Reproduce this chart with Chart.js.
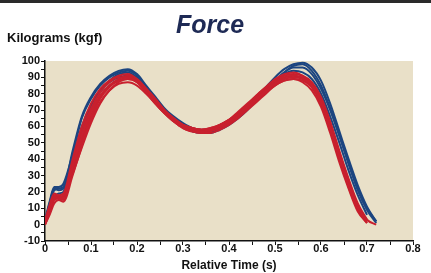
<!DOCTYPE html>
<html lang="en">
<head>
    <meta charset="UTF-8">
    <title>Force</title>
    <style>
        body {
            margin: 0;
            background: #ffffff;
            font-family: "Liberation Sans", Arial, sans-serif;
        }

        .frame {
            position: relative;
            width: 431px;
            height: 273px;
            overflow: hidden;
        }

        .top-bar {
            position: absolute;
            left: 0;
            top: 0;
            width: 431px;
            height: 3px;
            background: #2a2a2a;
        }

        .chart-title {
            position: absolute;
            left: 0;
            top: 12px;
            width: 420px;
            text-align: center;
            font: italic bold 25px/25px "Liberation Sans", Arial, sans-serif;
            color: #1e2a55;
        }

        .y-title {
            position: absolute;
            left: 7px;
            top: 31px;
            font: bold 13px/13px "Liberation Sans", Arial, sans-serif;
            color: #111;
        }

        .chart-box {
            position: absolute;
            left: 0;
            top: 0;
            width: 431px;
            height: 273px;
        }
    </style>
    <script src="https://cdn.jsdelivr.net/npm/chart.js"></script>
</head>
<body>
    <div class="frame">
        <div class="chart-box"><canvas id="forceChart"></canvas></div>
        <div class="top-bar"></div>
        <div class="chart-title">Force</div>
        <div class="y-title">Kilograms (kgf)</div>
    </div>

    <script>
        // relative time (s), shared by all traces
        const times = [0, 0.01, 0.02, 0.03, 0.04, 0.06, 0.08, 0.10, 0.12, 0.14, 0.16, 0.18, 0.20,
            0.22, 0.24, 0.26, 0.28, 0.30, 0.32, 0.34, 0.36, 0.38, 0.40, 0.42, 0.44, 0.46, 0.48,
            0.50, 0.52, 0.54, 0.56, 0.58, 0.60, 0.62, 0.64, 0.66, 0.68, 0.70, 0.72];

        // force (kgf) per trace
        const red1 = [1, 9, 17, 16, 16, 36, 54, 69, 79, 85, 88, 89, 87, 81, 74, 68, 63, 60, 58, 57, 58, 60, 63, 67, 72, 77, 82, 86, 89, 90, 89, 85, 75, 59, 41, 24, 10, 2, null];
        const red2 = [0, 6, 13, 15, 14, 30, 48, 64, 75, 82, 86, 87, 85, 80, 74, 68, 63, 59, 57, 56, 57, 59, 62, 66, 71, 76, 81, 85, 88, 89, 88, 84, 74, 58, 40, 23, 9, 1, null];
        const red3 = [2, 12, 19, 18, 19, 40, 60, 74, 83, 88, 91, 92, 89, 83, 76, 70, 65, 61, 59, 58, 59, 61, 64, 68, 73, 79, 84, 89, 92, 93, 91, 86, 76, 60, 42, 25, 11, 2, null];
        const red4 = [0, 8, 16, 17, 18, 34, 50, 65, 77, 84, 88, 90, 88, 82, 75, 69, 64, 61, 59, 58, 58, 60, 62, 66, 71, 76, 81, 86, 90, 91, 90, 86, 77, 62, 44, 27, 12, 3, 0];
        const red5 = [1, 10, 18, 16, 15, 33, 52, 67, 78, 85, 89, 91, 89, 83, 76, 69, 64, 60, 57, 56, 56, 58, 61, 65, 70, 75, 80, 85, 88, 89, 87, 82, 72, 56, 38, 22, 8, 1, null];
        const red6 = [3, 11, 18, 17, 17, 38, 57, 71, 81, 87, 90, 90, 87, 81, 74, 68, 63, 59, 57, 57, 58, 61, 64, 69, 74, 79, 84, 88, 91, 92, 91, 87, 78, 63, 45, 28, 13, 3, null];
        const red7 = [0, 7, 15, 16, 17, 31, 47, 62, 74, 82, 87, 89, 88, 83, 77, 70, 65, 61, 59, 58, 59, 61, 64, 68, 73, 78, 83, 87, 90, 91, 89, 84, 74, 58, 40, 24, 10, 2, null];

        const blue1 = [3, 14, 23, 23, 25, 43, 65, 77, 85, 90, 93, 94, 91, 84, 77, 70, 65, 61, 58, 57, 57, 59, 62, 66, 71, 76, 82, 88, 93, 96, 96, 92, 83, 70, 54, 37, 21, 9, 1];
        const blue2 = [2, 12, 21, 22, 23, 40, 60, 73, 82, 88, 92, 93, 90, 84, 77, 70, 64, 60, 57, 56, 56, 58, 61, 65, 70, 76, 82, 88, 93, 97, 98, 94, 85, 71, 55, 38, 22, 10, 2];
        const blue3 = [1, 9, 17, 19, 20, 38, 57, 71, 81, 87, 90, 91, 89, 83, 76, 69, 64, 60, 58, 57, 57, 59, 62, 66, 71, 77, 83, 88, 92, 94, 93, 89, 80, 66, 50, 33, 18, 6, null];
        const blue4 = [2, 13, 22, 21, 22, 45, 66, 78, 86, 91, 94, 95, 92, 85, 78, 71, 66, 62, 59, 58, 58, 60, 63, 67, 72, 78, 84, 90, 95, 98, 99, 96, 88, 74, 57, 40, 24, 11, 2];

        const redTraces = [red1, red2, red3, red4, red5, red6, red7];
        const blueTraces = [blue1, blue2, blue3, blue4];

        const xTickLabels = ['0', '0.1', '0.2', '0.3', '0.4', '0.5', '0.6', '0.7', '0.8'];

        function toPoints(values) {
            return values.map((v, i) => ({ x: times[i], y: v }));
        }

        function makeSet(values, color) {
            return {
                data: toPoints(values),
                borderColor: color,
                borderWidth: 2,
                pointRadius: 0,
                fill: false,
                cubicInterpolationMode: 'monotone',
                spanGaps: false
            };
        }

        // index 0 is drawn on top, so red goes first
        const datasets = [
            ...redTraces.map(v => makeSet(v, '#c8202e')),
            ...blueTraces.map(v => makeSet(v, '#1c4580'))
        ];

        // beige plot background
        const plotBg = {
            id: 'plotBg',
            beforeDraw(chart) {
                const a = chart.chartArea;
                const ctx = chart.ctx;
                ctx.save();
                ctx.fillStyle = '#e9e0c8';
                ctx.fillRect(a.left, a.top, a.right - a.left, a.bottom - a.top);
                ctx.restore();
            }
        };

        const tickFont = { family: '"Liberation Sans", Arial, sans-serif', size: 11, weight: 'bold' };

        new Chart(document.getElementById('forceChart'), {
            type: 'line',
            data: { datasets: datasets },
            plugins: [plotBg],
            options: {
                responsive: true,
                maintainAspectRatio: false,
                animation: false,
                layout: { padding: { top: 61, right: 18, left: 0, bottom: 0 } },
                plugins: {
                    legend: { display: false },
                    tooltip: { enabled: false }
                },
                scales: {
                    x: {
                        type: 'linear',
                        min: 0,
                        max: 0.8,
                        afterFit: s => { s.height = 32; },
                        grid: { drawOnChartArea: false, tickLength: 4, tickColor: '#111' },
                        border: { color: '#111', width: 1.5 },
                        ticks: {
                            stepSize: 0.05,
                            autoSkip: false,
                            maxRotation: 0,
                            padding: -3,
                            color: '#111',
                            font: tickFont,
                            callback: v => {
                                const k = Math.round(v * 20);
                                return k % 2 === 0 ? xTickLabels[k / 2] : '';
                            }
                        },
                        title: {
                            display: true,
                            text: 'Relative Time (s)',
                            color: '#111',
                            font: { family: '"Liberation Sans", Arial, sans-serif', size: 12, weight: 'bold' },
                            padding: { top: 0, bottom: 0 }
                        }
                    },
                    y: {
                        min: -10,
                        max: 100,
                        afterFit: s => { s.width = 45; },
                        grid: { drawOnChartArea: false, tickLength: 4, tickColor: '#111' },
                        border: { color: '#111', width: 1.5 },
                        ticks: {
                            stepSize: 5,
                            autoSkip: false,
                            padding: 1,
                            color: '#111',
                            font: tickFont,
                            callback: v => (Math.round(v) % 10 === 0 ? String(Math.round(v)) : '')
                        }
                    }
                }
            }
        });
    </script>
</body>
</html>
